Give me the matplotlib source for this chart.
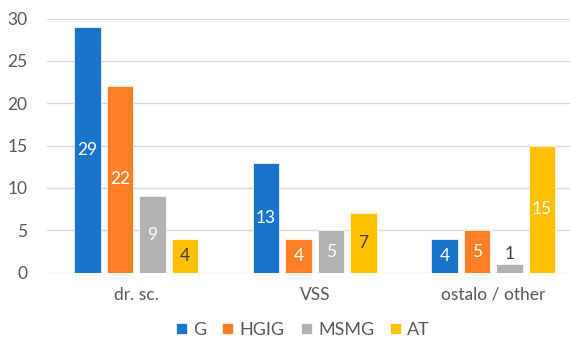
import numpy as np
import matplotlib.pyplot as plt

plt.rcParams['font.family'] = ['Lato', 'DejaVu Sans']

categories = ['dr. sc.', 'VSS', 'ostalo / other']
series = ['G', 'HGIG', 'MSMG', 'AT']
values = {
    'G':    [29, 13, 4],
    'HGIG': [22, 4, 5],
    'MSMG': [9, 5, 1],
    'AT':   [4, 7, 15],
}
colors = ['#1B74CC', '#FF7F27', '#B3B2B0', '#FFC000']

fig = plt.figure(figsize=(5.70, 3.41), dpi=100)
ax = fig.add_axes([47/570, 68.3/341, 523/570, 254.2/341])

x = np.arange(len(categories))
step = 0.182
width = 0.146
dark = '#404040'

for j, (name, col) in enumerate(zip(series, colors)):
    vals = values[name]
    pos = x + (j - 1.5) * step
    bars = ax.bar(pos, vals, width, color=col, edgecolor='white', linewidth=0.5,
                  label=name, zorder=3)
    for b, v in zip(bars, vals):
        cx = b.get_x() + b.get_width() / 2
        if v < 2:
            ax.text(cx, v + 0.3, str(v), ha='center', va='bottom',
                    fontsize=12.5, color=dark, zorder=4)
        else:
            tc = dark if (name == 'AT' and v < 10) else 'white'
            ax.text(cx, v / 2, str(v), ha='center', va='center',
                    fontsize=12.5, color=tc, zorder=4)

ax.set_xlim(-0.5, 2.43)
ax.set_ylim(0, 30)
ax.set_yticks(range(0, 31, 5))
ax.set_xticks(x)
ax.set_xticklabels(categories)
ax.grid(axis='y', color='#D9D9D9', linewidth=1, zorder=0)
for s in ax.spines.values():
    s.set_visible(False)
ax.tick_params(axis='both', length=0, labelsize=12.5, colors='#595959')
ax.tick_params(axis='x', pad=10)
ax.tick_params(axis='y', pad=14)

ax.legend(loc='center', bbox_to_anchor=(303/570, 11/341),
          bbox_transform=fig.transFigure, ncol=4, frameon=False,
          fontsize=13, handlelength=0.6, handleheight=0.6,
          handletextpad=0.35, columnspacing=0.9, labelcolor='#595959',
          borderpad=0)

fig.savefig('out.png', dpi=100)
